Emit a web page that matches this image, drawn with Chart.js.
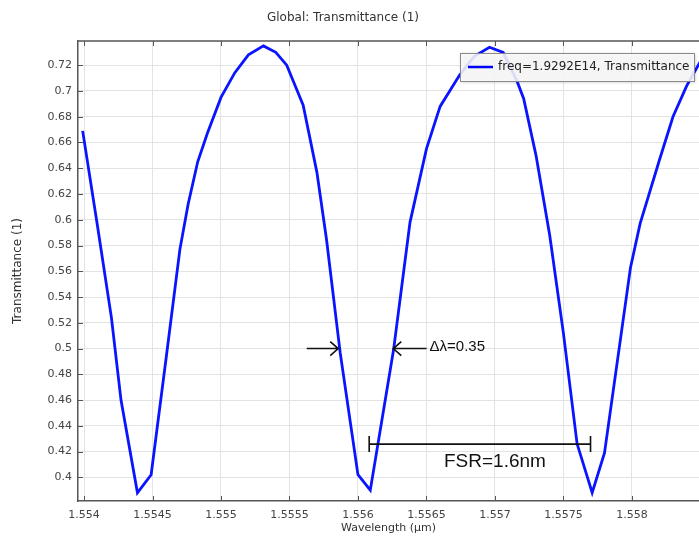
<!DOCTYPE html>
<html>
<head>
<meta charset="utf-8">
<script src="https://cdn.jsdelivr.net/npm/chart.js@4.4.1/dist/chart.umd.min.js"></script>
<style>
  html, body { margin: 0; padding: 0; background: #fff; }
</style>
</head>
<body>
<canvas id="chartTransmittance" width="699" height="541"></canvas>
<script>
// values
const wavelength = [
  1.55399, 1.5541, 1.5542, 1.55427, 1.55439, 1.55449, 1.5546, 1.5547,
  1.55476, 1.55483, 1.5549, 1.555, 1.5551, 1.5552, 1.55531, 1.5554,
  1.55548, 1.5556, 1.5557, 1.55577, 1.55587, 1.556, 1.55609, 1.55626,
  1.55638, 1.5565, 1.5566, 1.55674, 1.55685, 1.55696, 1.55706, 1.55716,
  1.55721, 1.5573, 1.5574, 1.5575, 1.5576, 1.55771, 1.5578, 1.55799,
  1.55806, 1.55812, 1.5582, 1.5583, 1.5584, 1.5585,
];
const transmittance = [
  0.669, 0.594, 0.524, 0.46, 0.388, 0.402, 0.493, 0.577,
  0.612, 0.645, 0.667, 0.695, 0.714, 0.728, 0.735, 0.73,
  0.72, 0.689, 0.637, 0.585, 0.497, 0.402, 0.39, 0.499,
  0.598, 0.655, 0.688, 0.712, 0.727, 0.734, 0.73, 0.708,
  0.694, 0.65, 0.588, 0.512, 0.426, 0.388, 0.419, 0.563,
  0.597, 0.618, 0.646, 0.68, 0.704, 0.723,
];
const xTicks = [1.554, 1.5545, 1.555, 1.5555, 1.556, 1.5565, 1.557, 1.5575, 1.558];
const yTicks = [0.4, 0.42, 0.44, 0.46, 0.48, 0.5, 0.52, 0.54, 0.56, 0.58, 0.6, 0.62, 0.64, 0.66, 0.68, 0.7, 0.72];
const seriesLabel = "freq=1.9292E14, Transmittance";

// annotation anchors, in data units
const arrowLeft = { from: 1.555626, to: 1.555856, y: 0.5 };
const arrowRight = { from: 1.556501, to: 1.556258, y: 0.5 };
const fsrBar = { from: 1.556082, to: 1.557698, y: 0.4258 };

const FONT = "'DejaVu Sans', sans-serif";
const AXIS = "#555";

function drawArrow(ctx, x1, x2, y) {
  const dir = x2 > x1 ? 1 : -1;
  ctx.beginPath();
  ctx.moveTo(x1, y);
  ctx.lineTo(x2, y);
  ctx.moveTo(x2 - dir * 8, y - 7);
  ctx.lineTo(x2, y);
  ctx.lineTo(x2 - dir * 8, y + 7);
  ctx.stroke();
}

const decorations = {
  id: "decorations",
  afterDatasetsDraw(chart) {
    const { ctx, chartArea: a } = chart;
    const xs = chart.scales.x, ys = chart.scales.y;
    ctx.save();
    // frame top + inward tick marks
    ctx.strokeStyle = AXIS;
    ctx.lineWidth = 1.5;
    ctx.beginPath();
    ctx.moveTo(a.left, a.top);
    ctx.lineTo(a.right, a.top);
    ctx.stroke();
    ctx.lineWidth = 1;
    ctx.beginPath();
    xTicks.forEach(v => {
      const px = Math.round(xs.getPixelForValue(v)) + 0.5;
      ctx.moveTo(px, a.bottom); ctx.lineTo(px, a.bottom - 5);
      ctx.moveTo(px, a.top); ctx.lineTo(px, a.top + 5);
    });
    yTicks.forEach(v => {
      const py = Math.round(ys.getPixelForValue(v)) + 0.5;
      ctx.moveTo(a.left, py); ctx.lineTo(a.left + 5, py);
    });
    ctx.stroke();

    // annotations
    ctx.strokeStyle = "#111";
    ctx.fillStyle = "#111";
    ctx.lineWidth = 1.6;
    drawArrow(ctx, xs.getPixelForValue(arrowLeft.from), xs.getPixelForValue(arrowLeft.to), ys.getPixelForValue(arrowLeft.y));
    drawArrow(ctx, xs.getPixelForValue(arrowRight.from), xs.getPixelForValue(arrowRight.to), ys.getPixelForValue(arrowRight.y));
    ctx.font = "15px 'Liberation Sans', Arial, sans-serif";
    ctx.textAlign = "left";
    ctx.textBaseline = "middle";
    ctx.fillText("\u0394\u03bb=0.35", xs.getPixelForValue(arrowRight.from) + 3, ys.getPixelForValue(arrowRight.y) - 2);

    const bx1 = xs.getPixelForValue(fsrBar.from), bx2 = xs.getPixelForValue(fsrBar.to);
    const by = ys.getPixelForValue(fsrBar.y);
    ctx.beginPath();
    ctx.moveTo(bx1, by); ctx.lineTo(bx2, by);
    ctx.moveTo(bx1, by - 8); ctx.lineTo(bx1, by + 8);
    ctx.moveTo(bx2, by - 8); ctx.lineTo(bx2, by + 8);
    ctx.stroke();
    ctx.font = "19px 'Liberation Sans', Arial, sans-serif";
    ctx.textAlign = "center";
    ctx.fillText("FSR=1.6nm", xs.getPixelForValue(1.557), by + 18);
    ctx.restore();
  },
  afterDraw(chart) {
    const { ctx, chartArea: a } = chart;
    ctx.save();
    // titles
    ctx.fillStyle = "#333";
    ctx.textAlign = "center";
    ctx.textBaseline = "middle";
    ctx.font = "12px " + FONT;
    ctx.fillText("Global: Transmittance (1)", 343, 18);
    ctx.font = "11px " + FONT;
    ctx.fillText("Wavelength (\u00b5m)", (a.left + a.right) / 2, 528);
    ctx.font = "12px " + FONT;
    ctx.translate(18, (a.top + a.bottom) / 2);
    ctx.rotate(-Math.PI / 2);
    ctx.fillText("Transmittance (1)", 0, 0);
    ctx.restore();

    // legend box
    ctx.save();
    const lx = 460, ly = 53, lw = 234, lh = 28;
    ctx.shadowColor = "rgba(0,0,0,0.3)";
    ctx.shadowBlur = 3;
    ctx.shadowOffsetX = 1;
    ctx.shadowOffsetY = 1;
    ctx.fillStyle = "rgba(255,255,255,0.85)";
    ctx.fillRect(lx, ly, lw, lh);
    ctx.shadowColor = "transparent";
    ctx.strokeStyle = "#8a8a8a";
    ctx.lineWidth = 1;
    ctx.strokeRect(lx + 0.5, ly + 0.5, lw, lh);
    ctx.strokeStyle = "#0000ff";
    ctx.lineWidth = 2.5;
    ctx.beginPath();
    ctx.moveTo(lx + 8, ly + 14);
    ctx.lineTo(lx + 33, ly + 14);
    ctx.stroke();
    ctx.fillStyle = "#222";
    ctx.font = "12px " + FONT;
    ctx.textBaseline = "middle";
    ctx.fillText(seriesLabel, lx + 38, ly + 14);
    ctx.restore();
  },
};

const dataTransmittance = {
  datasets: [
    {
      label: seriesLabel,
      data: wavelength.map((w, i) => ({ x: w, y: transmittance[i] })),
      borderColor: "#0a14ff",
      borderWidth: 2.8,
      pointRadius: 0,
      tension: 0,
      fill: false,
    },
  ],
};

const configTransmittance = {
  type: "line",
  data: dataTransmittance,
  options: {
    responsive: false,
    animation: false,
    devicePixelRatio: 1,
    layout: { padding: { top: 41, right: 0, bottom: 0, left: 0 } },
    plugins: {
      legend: { display: false },
      title: { display: false },
      tooltip: { enabled: false },
    },
    scales: {
      x: {
        type: "linear",
        min: 1.553956,
        max: 1.55849,
        afterBuildTicks: s => { s.ticks = xTicks.map(v => ({ value: v })); },
        afterFit: s => { s.height = 40; },
        grid: { color: "#e3e3e3", drawTicks: false },
        border: { display: true, color: AXIS, width: 1.5 },
        ticks: {
          padding: 8,
          maxRotation: 0,
          autoSkip: false,
          color: "#444",
          font: { family: FONT, size: 11 },
          callback: v => String(+v.toFixed(4)),
        },
      },
      y: {
        type: "linear",
        min: 0.3816,
        max: 0.7388,
        afterBuildTicks: s => { s.ticks = yTicks.map(v => ({ value: v })); },
        afterFit: s => { s.width = 78; },
        grid: { color: "#e3e3e3", drawTicks: false },
        border: { display: true, color: AXIS, width: 1.5 },
        ticks: {
          padding: 6,
          autoSkip: false,
          color: "#444",
          font: { family: FONT, size: 11 },
          callback: v => String(+v.toFixed(2)),
        },
      },
    },
  },
  plugins: [decorations],
};

let chartTransmittance = new Chart(
  document.getElementById("chartTransmittance"),
  configTransmittance
);
</script>
</body>
</html>
